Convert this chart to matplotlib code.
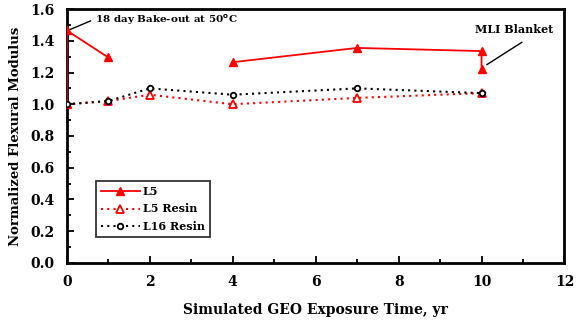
import numpy as np
import matplotlib
matplotlib.use("Agg")
import matplotlib.pyplot as plt
from matplotlib.ticker import MultipleLocator, FormatStrFormatter

# data
l5_x = [0, 0, 1, np.nan, 4, 7, 10, 10]
l5_y = [1.00, 1.465, 1.295, np.nan, 1.265, 1.355, 1.335, 1.225]
l5r_x = [0, 1, 2, 4, 7, 10]
l5r_y = [1.00, 1.02, 1.06, 1.00, 1.04, 1.07]
l16_x = [0, 1, 2, 4, 7, 10]
l16_y = [1.00, 1.02, 1.10, 1.06, 1.10, 1.07]

plt.rcParams['font.family'] = ['DejaVu Serif']
plt.rcParams['font.weight'] = 'bold'

fig = plt.figure(figsize=(5.76, 3.23), dpi=100, facecolor='white')
ax = fig.add_axes([0.116, 0.186, 0.864, 0.786])

ax.plot(l5_x, l5_y, color='#ff0000', lw=1.3, marker='^', ms=6, label='L5', zorder=3)
ax.plot(l5r_x, l5r_y, color='#ff0000', lw=1.5, ls=(0, (1, 2)), marker='^', ms=6,
        mfc='white', mec='#ff0000', mew=1.3, label='L5 Resin', zorder=3)
ax.plot(l16_x, l16_y, color='black', lw=1.5, ls=(0, (1, 2)), marker='o', ms=4,
        mfc='white', mec='black', mew=1.3, label='L16 Resin', zorder=4)

ax.set_xlim(0, 12); ax.set_ylim(0, 1.6)
ax.xaxis.set_major_locator(MultipleLocator(2)); ax.xaxis.set_minor_locator(MultipleLocator(1))
ax.yaxis.set_major_locator(MultipleLocator(0.2)); ax.yaxis.set_minor_locator(MultipleLocator(0.1))
ax.yaxis.set_major_formatter(FormatStrFormatter('%.1f'))
ax.tick_params(which='both', direction='in', width=1.3, labelsize=10)
ax.tick_params(which='major', length=5, pad=9)
ax.tick_params(which='minor', length=3)
for s in ax.spines.values():
    s.set_linewidth(2)

ax.set_xlabel("Simulated GEO Exposure Time, yr", fontsize=10, fontweight='bold', labelpad=10)
ax.set_ylabel("Normalized Flexural Modulus", fontsize=9.5, fontweight='bold', labelpad=6)

# callouts
ax.plot([0.07, 0.57], [1.47, 1.525], color='black', lw=1, clip_on=False)
ax.text(0.69, 1.53, "18 day Bake-out at 50$^{\\mathbf{o}}$C", fontsize=7.5,
        fontweight='bold', va='center', ha='left')
ax.plot([10.13, 10.97], [1.25, 1.39], color='black', lw=1)
ax.text(9.84, 1.47, "MLI Blanket", fontsize=8, fontweight='bold', va='center', ha='left')

leg = ax.legend(loc='lower left', bbox_to_anchor=(0.047, 0.08), fontsize=8,
                frameon=True, fancybox=False, edgecolor='black', handlelength=3.5,
                borderpad=0.45, labelspacing=0.6, handletextpad=0.3)
leg.get_frame().set_linewidth(1.3)

plt.savefig("out.png", dpi=100)
